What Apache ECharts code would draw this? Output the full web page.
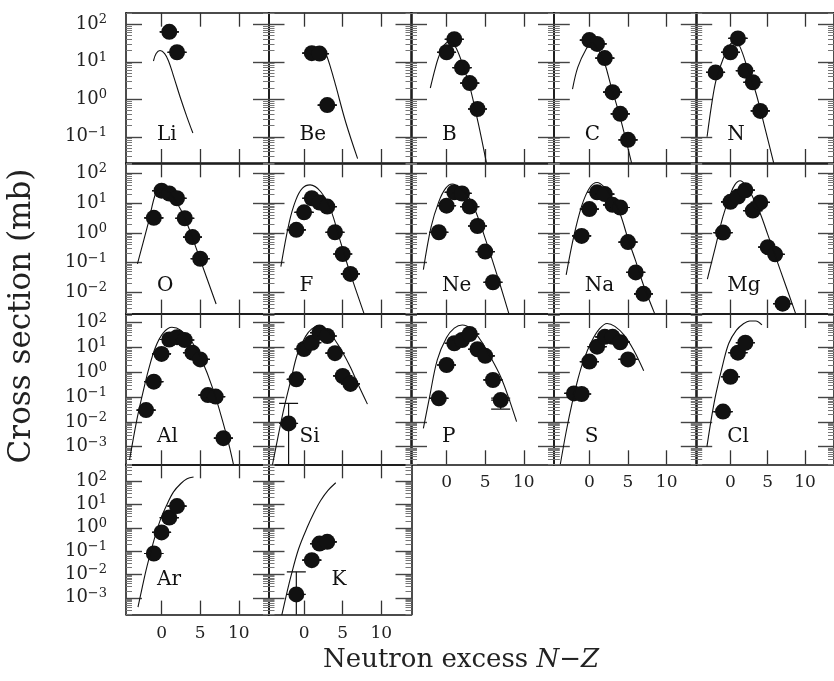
<!DOCTYPE html>
<html><head><meta charset="utf-8">
<script src="https://cdn.jsdelivr.net/npm/echarts@6/dist/echarts.min.js"></script>
<style>html,body{margin:0;padding:0;background:#fff}#c{width:834px;height:681px}</style>
</head><body><div id="c"></div>
<script>
// ---------- data (N-Z, cross section in mb) ----------
const elements = ['Li','Be','B','C','N','O','F','Ne','Na','Mg','Al','Si','P','S','Cl','Ar','K'];

// measured points: [N-Z, sigma] or [N-Z, sigma, errLow, errHigh]
const ptsLi = [[1,63],[2,18]];
const ptsBe = [[1,17],[2,16.6],[3,0.7]];
const ptsB  = [[0,18],[1,40],[2,7],[3,2.7],[4,0.55]];
const ptsC  = [[0,38],[1,30],[2,12.6],[3,1.55],[4,0.41],[5,0.083]];
const ptsN  = [[-2,5.2],[0,18],[1,42],[2,5.8],[3,2.85],[4,0.49]];
const ptsO  = [[-1,3.2],[0,26],[1,21],[2,14.5],[3,3.1],[4,0.72],[5,0.135]];
const ptsF  = [[-1,1.26],[0,4.9],[1,14.5],[2,10.4],[3,7.6],[4,1.05],[5,0.195],[6,0.042]];
const ptsNe = [[-1,1.05],[0,8.2],[1,23],[2,21],[3,7.6],[4,1.7],[5,0.235],[6,0.022]];
const ptsNa = [[-1,0.79],[0,6.3],[1,23],[2,20],[3,8.7],[4,7.1],[5,0.49],[6,0.047],[7,0.009]];
const ptsMg = [[-1,1.02],[0,11],[1,16.5],[2,27],[3,5.6],[4,10.5],[5,0.33],[6,0.19],[7,0.0042]];
const ptsAl = [[-2,0.030],[-1,0.42],[0,5.5],[1,21],[2,26],[3,20],[4,6.2],[5,3.3],[6,0.12],[7,0.105],[8,0.0022]];
const ptsSi = [[-2,0.0087,0.000001,0.056],[-1,0.52],[0,8.7],[1,15.5],[2,40],[3,29],[4,5.9],[5,0.71],[6,0.34]];
const ptsP  = [[-1,0.089],[0,1.97],[1,14.8],[2,20],[3,35],[4,8.5],[5,4.6],[6,0.49],[7,0.076,0.033,0.09]];
const ptsS  = [[-2,0.14],[-1,0.133],[0,2.7],[1,10.8],[2,27],[3,27],[4,16.3],[5,3.3]];
const ptsCl = [[-1,0.026],[0,0.66],[1,6.2],[2,15.5]];
const ptsAr = [[-1,0.079],[0,0.63],[1,2.75],[2,8.5]];
const ptsK  = [[-1,0.0014,0.000001,0.013],[1,0.041],[2,0.21],[3,0.25]];

// model curves: [N-Z, sigma]
const fitLi = [[-1.05,10.5],[-0.7,16.6],[-0.2,20],[0.4,16.6],[0.9,10.5],[1.5,4.5],[2.5,1.0],[3.3,0.33],[4.05,0.126]];
const fitBe = [[2.5,20],[2.9,15],[3.5,6.3],[4.1,2.3],[5.4,0.24],[6.93,0.026]];
const fitB  = [[-2.1,2.0],[-1.5,6.3],[-1.0,13.8],[-0.3,28],[0.5,35],[1.3,22],[2.2,7.1],[3.0,2.2],[4.1,0.23],[5.16,0.02]];
const fitC  = [[-2.18,1.86],[-1.5,7.1],[-0.46,21],[0.3,32],[1.2,20],[2.0,8.9],[2.7,2.7],[4.0,0.32],[5.46,0.02]];
const fitN  = [[-3.14,0.10],[-2.5,0.79],[-1.94,3.2],[-1.04,11.2],[-0.2,26],[0.6,35],[1.28,25],[2.3,6.6],[3.43,1.45],[4.6,0.18],[5.8,0.02]];
const fitO  = [[-3.12,0.091],[-1.72,2.14],[-0.69,24],[0,30],[1,22.4],[2,10],[3,3.16],[4,0.68],[5,0.126],[7.06,0.0041]];
const fitF  = [[-3.0,0.074],[-1.94,2.14],[-1.07,12.6],[-0.2,31.6],[0.78,40.7],[2.16,24],[3.45,5.9],[4.6,0.63],[5.82,0.058],[7.76,0.00195]];
const fitNe = [[-3.0,0.058],[-2.0,1.58],[-1.0,11.2],[-0.1,31.6],[0.74,43.6],[2.0,28],[3.1,12.6],[4.18,2.75],[5.05,0.59],[5.9,0.126],[7.0,0.0158],[8.06,0.00195]];
const fitNa = [[-3.0,0.039],[-2.0,0.79],[-1.0,7.9],[0,31.6],[1,49],[2,33],[3,14.1],[4,4.2],[5,0.63],[6,0.112],[7,0.0178],[8.45,0.00195]];
const fitMg = [[-3.1,0.028],[-2,0.355],[-1,3.55],[0,20],[0.6,41.7],[1.29,56],[2.2,35.5],[3,15.8],[4,4.47],[5,0.89],[6.7,0.055],[8.75,0.00195]];
const fitAl = [[-4.14,0.00029],[-3.2,0.012],[-2.4,0.158],[-1.7,1.23],[-0.8,10],[0.2,38],[1.34,65],[2.5,49],[4,15.5],[5,4.4],[6.7,0.19],[8.46,0.0025],[9.3,0.000195]];
const fitSi = [[-4.1,0.00018],[-3.3,0.0032],[-2.6,0.035],[-1.7,0.5],[-0.85,5.6],[0.2,28],[1,56],[1.94,74],[3,48],[4,20],[5,6.3],[6,1.58],[7,0.32],[8.2,0.052]];
const fitP  = [[-3,0.0055],[-2.2,0.1],[-1.2,3.16],[0,25],[1,60],[2.03,81],[3.2,56],[4.5,17.8],[5.8,3.55],[7,0.66],[8,0.1],[9.06,0.0102]];
const fitS  = [[-3.75,0.0002],[-3,0.004],[-2.24,0.056],[-1.5,0.5],[-0.73,3.16],[0.3,17.8],[1.3,56],[2.29,93],[3.3,71],[4.5,31.6],[5.73,7.9],[7.03,1.15]];
const fitCl = [[-3.16,0.001],[-2.5,0.0178],[-1.94,0.141],[-1,2.24],[-0.22,14.8],[0.8,50],[1.7,89],[2.59,117],[3.4,117],[4.22,81]];
const fitAr = [[-3.05,0.0004],[-2.5,0.0028],[-1.9,0.021],[-1,0.28],[-0.17,2.14],[0.7,10],[1.55,34.7],[2.5,79],[3.3,126],[4.14,151]];
const fitK  = [[-2.88,0.00018],[-2.3,0.00126],[-1.72,0.0079],[-0.7,0.126],[0.44,1.1],[1.3,4.5],[2.17,15.1],[3.1,40],[4.1,85]];

// tick labels
const xTickValues = [0, 5, 10];
const yTickExponents = [-3, -2, -1, 0, 1, 2];
const xTitle = 'Neutron excess';
const yTitle = 'Cross section (mb)';

// ---------- layout ----------
const PTS = {Li:ptsLi,Be:ptsBe,B:ptsB,C:ptsC,N:ptsN,O:ptsO,F:ptsF,Ne:ptsNe,Na:ptsNa,Mg:ptsMg,Al:ptsAl,Si:ptsSi,P:ptsP,S:ptsS,Cl:ptsCl,Ar:ptsAr,K:ptsK};
const FIT = {Li:fitLi,Be:fitBe,B:fitB,C:fitC,N:fitN,O:fitO,F:fitF,Ne:fitNe,Na:fitNa,Mg:fitMg,Al:fitAl,Si:fitSi,P:fitP,S:fitS,Cl:fitCl,Ar:fitAr,K:fitK};
const COL_LEFT = [126, 268.5, 411, 553.8, 696.2];
const COL_W = 143;
const ROW_TOP = [12.7, 163.3, 314, 464.3];
const ROW_H = 150.3;
const ROW_RANGE = [[-1.7, 2.31], [-2.71, 2.335], [-3.71, 2.35], [-3.72, 2.72]];
const X_MIN = -4.6, X_MAX = 13.9;
const SHOW_X_LABELS = ['P', 'S', 'Cl', 'Ar', 'K'];
const LABEL_DX = {K: 63};
const FONT = '"DejaVu Serif", serif';

const option = {
  animation: false,
  backgroundColor: '#fff',
  grid: [], xAxis: [], yAxis: [], series: [], graphic: []
};

const supMinus = n => (n < 0 ? '\u2212' + (-n) : '' + n);

elements.forEach((el, i) => {
  const row = Math.floor(i / 5), col = i % 5;
  const [ymin, ymax] = ROW_RANGE[row];
  option.grid.push({left: COL_LEFT[col], top: ROW_TOP[row], width: COL_W, height: ROW_H, containLabel: false});
  const showX = SHOW_X_LABELS.includes(el);
  const majorY = yTickExponents.filter(v => v >= ymin && v <= ymax);
  const minorY = [];
  for (let n = -5; n <= 3; n++) for (let k = 2; k <= 9; k++) {
    const v = n + Math.log10(k);
    if (v > ymin && v < ymax) minorY.push(v);
  }
  const xBase = {
    gridIndex: i, type: 'value', min: X_MIN, max: X_MAX,
    axisLine: {show: true, onZero: false, lineStyle: {color: '#111', width: 1.5}},
    axisTick: {show: true, inside: true, length: 14, customValues: xTickValues, lineStyle: {color: '#333', width: 1.3}},
    splitLine: {show: false}
  };
  option.xAxis.push(Object.assign({}, xBase, {position: 'bottom',
    axisLabel: {show: showX, customValues: xTickValues, margin: 10, fontFamily: FONT, fontSize: 17, color: '#222'}}));
  option.xAxis.push(Object.assign({}, xBase, {position: 'top', axisLabel: {show: false}}));

  const yMajor = side => ({
    gridIndex: i, type: 'value', min: ymin, max: ymax, position: side,
    axisLine: {show: true, onZero: false, lineStyle: {color: '#111', width: 1.5}},
    axisTick: {show: true, inside: true, length: 16, customValues: majorY, lineStyle: {color: '#444', width: 1.4}},
    axisLabel: {show: side === 'left' && col === 0, customValues: majorY, margin: 19,
      formatter: v => '{a|10}{b|' + supMinus(Math.round(v)) + '}',
      rich: {a: {fontFamily: FONT, fontSize: 18, color: '#222', lineHeight: 22},
             b: {fontFamily: FONT, fontSize: 13, color: '#222', verticalAlign: 'top', lineHeight: 22}}},
    splitLine: {show: false}
  });
  const yMinor = side => ({
    gridIndex: i, type: 'value', min: ymin, max: ymax, position: side,
    axisLine: {show: false, onZero: false},
    axisTick: {show: true, inside: true, length: 6, customValues: minorY, lineStyle: {color: '#777', width: 1}},
    axisLabel: {show: false}, splitLine: {show: false}
  });
  option.yAxis.push(yMajor('left'), yMajor('right'), yMinor('left'), yMinor('right'));

  option.series.push({
    type: 'line', xAxisIndex: 2 * i, yAxisIndex: 4 * i,
    data: FIT[el].map(([x, v]) => [x, Math.log10(v)]),
    smooth: 0.35, symbol: 'none', showSymbol: false, clip: true, silent: true,
    lineStyle: {color: '#111', width: 1.1}
  });
  option.series.push({
    type: 'custom', xAxisIndex: 2 * i, yAxisIndex: 4 * i, clip: true, silent: true,
    dimensions: ['x', 'y', 'lo', 'hi'],
    data: PTS[el].map(p => {
      const y = Math.log10(p[1]);
      return [p[0], y, p.length > 2 ? Math.log10(p[2]) : y, p.length > 3 ? Math.log10(p[3]) : y];
    }),
    renderItem: (params, api) => {
      const c = api.coord([api.value(0), api.value(1)]);
      const lo = api.coord([api.value(0), api.value(2)]);
      const hi = api.coord([api.value(0), api.value(3)]);
      const hw = 9.5, st = {stroke: '#111', lineWidth: 1.2};
      return {type: 'group', children: [
        {type: 'line', shape: {x1: c[0], y1: lo[1], x2: c[0], y2: hi[1]}, style: st},
        {type: 'line', shape: {x1: c[0] - hw, y1: lo[1], x2: c[0] + hw, y2: lo[1]}, style: st},
        {type: 'line', shape: {x1: c[0] - hw, y1: hi[1], x2: c[0] + hw, y2: hi[1]}, style: st},
        {type: 'line', shape: {x1: c[0] - hw, y1: c[1], x2: c[0] + hw, y2: c[1]}, style: st},
        {type: 'circle', shape: {cx: c[0], cy: c[1], r: 8}, style: {fill: '#111'}}
      ]};
    }
  });

  const dx = LABEL_DX[el] !== undefined ? LABEL_DX[el] : 31;
  const baseline = ROW_TOP[row] + ROW_H - (row === 3 ? 28 : 21);
  option.graphic.push({type: 'text', x: COL_LEFT[col] + dx, y: baseline - 7, silent: true,
    style: {text: el, font: '20px ' + FONT, fill: '#111', align: 'left', verticalAlign: 'middle'}});
});

option.graphic.push({type: 'text', x: 461, y: 660, silent: true,
  style: {text: '{t|' + xTitle + ' }{i|N}{t|\u2212}{i|Z}', align: 'center', verticalAlign: 'middle',
    rich: {t: {font: '26px ' + FONT, fill: '#222'}, i: {font: 'italic 26px ' + FONT, fill: '#222'}}}});
option.graphic.push({type: 'text', x: 22, y: 316, rotation: Math.PI / 2, silent: true,
  style: {text: yTitle, font: '31px ' + FONT, fill: '#222', align: 'center', verticalAlign: 'middle'}});

const chart = echarts.init(document.getElementById('c'), null, {renderer: 'canvas'});
chart.setOption(option);
</script></body></html>
